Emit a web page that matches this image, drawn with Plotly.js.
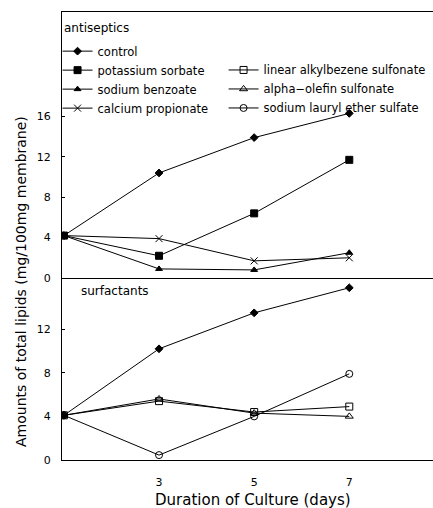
<!DOCTYPE html>
<html><head><meta charset="utf-8">
<script src="https://cdn.plot.ly/plotly-3.0.1.min.js"></script>
<style>html,body{margin:0;padding:0;background:#fff}#c{width:433px;height:508px}</style>
</head><body><div id="c"></div>
<script>
const days = ["0","3","5","7"];
const tickDays = ["3","5","7"];
// antiseptics panel
const antiControl = [4.2, 10.4, 13.9, 16.3];
const potassiumSorbate = [4.2, 2.2, 6.4, 11.7];
const sodiumBenzoate = [4.2, 0.9, 0.8, 2.5];
const calciumPropionate = [4.2, 3.9, 1.7, 2.0];
// surfactants panel
const surfControl = [4.1, 10.2, 13.5, 15.8];
const linearAlkylbenzene = [4.1, 5.4, 4.4, 4.9];
const alphaOlefin = [4.1, 5.6, 4.3, 4.0];
const sodiumLaurylEther = [4.1, 0.45, 4.0, 7.9];
const topYTicks = [0, 4, 8, 12, 16];
const botYTicks = [0, 4, 8, 12];

const F = "DejaVu Sans, sans-serif";
function tr(name, y, sym, xa, ya, legend, show, size) {
  return {x: days, y: y, name: name, type: "scatter", mode: "lines+markers",
    xaxis: xa, yaxis: ya, legend: legend, showlegend: show,
    line: {color: "#000", width: 1},
    marker: {symbol: sym, size: size || 6, color: "#000", line: {color: "#000", width: 1}}};
}
const data = [
  tr("control", antiControl, "diamond", "x2", "y2", "legend", true, 6),
  tr("potassium sorbate", potassiumSorbate, "square", "x2", "y2", "legend", true, 7),
  tr("sodium benzoate", sodiumBenzoate, "triangle-up", "x2", "y2", "legend", true, 6),
  tr("calcium propionate", calciumPropionate, "x-thin-open", "x2", "y2", "legend", true, 7),
  tr("linear alkylbezene sulfonate", linearAlkylbenzene, "square-open", "x", "y", "legend2", true, 7),
  tr("alpha\u2212olefin sulfonate", alphaOlefin, "triangle-up-open", "x", "y", "legend2", true, 7),
  tr("sodium lauryl ether sulfate", sodiumLaurylEther, "circle-open", "x", "y", "legend2", true, 7),
  tr("control", surfControl, "diamond", "x", "y", "legend", false, 6)
];
const split = (460 - 278) / 448;
const ax = {type: "category", range: [-0.02, 3.88], showgrid: false, zeroline: false,
  linecolor: "#000", linewidth: 1, ticks: "", color: "#000"};
const yax = {showgrid: false, zeroline: false, showline: true, linecolor: "#000", tickmode: "array",
  ticks: "inside", ticklen: 3, tickcolor: "#000", ticklabelstandoff: 8, tickfont: {size: 11}};
const layout = {
  width: 433, height: 508,
  margin: {l: 62, r: 0, t: 12, b: 48, autoexpand: false},
  paper_bgcolor: "#fff", plot_bgcolor: "#fff",
  font: {family: F, size: 11, color: "#000"},
  xaxis: Object.assign({}, ax, {anchor: "y", showline: true, tickmode: "array", tickvals: tickDays,
    ticktext: tickDays, tickfont: {size: 11}, ticklabelstandoff: 12}),
  xaxis2: Object.assign({}, ax, {anchor: "y2", showline: true, mirror: true, showticklabels: false, matches: "x"}),
  yaxis: Object.assign({}, yax, {domain: [0, split], range: [0, (460 - 278) / 10.9], tickvals: botYTicks}),
  yaxis2: Object.assign({}, yax, {domain: [split, 1], range: [0, (278 - 12) / 10.1], tickvals: topYTicks}),
  legend: {x: -0.012, y: 0.945, xanchor: "left", yanchor: "top", bgcolor: "rgba(0,0,0,0)",
    font: {size: 11.5}, itemwidth: 30, tracegroupgap: 0},
  legend2: {x: 0.4355, y: 0.903, xanchor: "left", yanchor: "top", bgcolor: "rgba(0,0,0,0)",
    font: {size: 11.5}, itemwidth: 30},
  annotations: [
    {text: "antiseptics", xref: "paper", yref: "paper", x: 0.0, y: (460 - 28) / 448,
      xanchor: "left", yanchor: "middle", showarrow: false, font: {size: 12}},
    {text: "surfactants", xref: "paper", yref: "paper", x: 0.045, y: (460 - 291) / 448,
      xanchor: "left", yanchor: "middle", showarrow: false, font: {size: 12}},
    {text: "Duration of Culture (days)", xref: "paper", yref: "paper",
      x: (253 - 62) / 371, y: (460 - 500) / 448, xanchor: "center", yanchor: "middle",
      showarrow: false, font: {size: 15}},
    {text: "Amounts of total lipids (mg/100mg membrane)", xref: "paper", yref: "paper",
      x: (21 - 62) / 371, y: (460 - 282) / 448, xanchor: "center", yanchor: "middle", textangle: -90,
      showarrow: false, font: {size: 14}}
  ]
};
Plotly.newPlot("c", data, layout, {displayModeBar: false, staticPlot: true});
</script></body></html>
